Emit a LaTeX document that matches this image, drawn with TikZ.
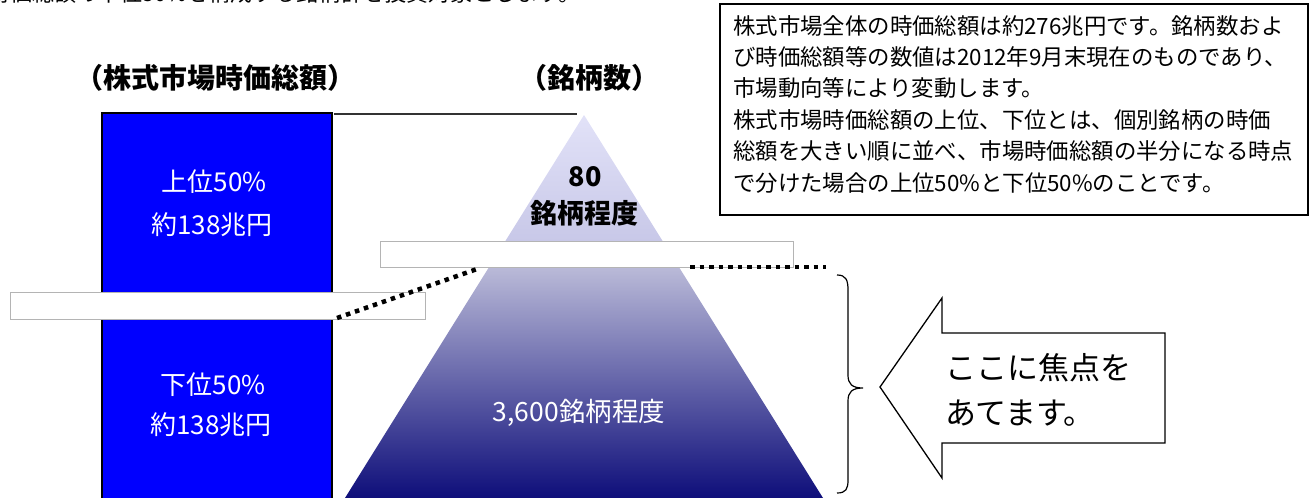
\documentclass[tikz,border=0pt]{standalone}
\usepackage{fontspec}
\setmainfont{Noto Sans CJK JP}
\definecolor{pyrA}{RGB}{226,226,248}
\definecolor{pyrB}{RGB}{200,200,232}
\definecolor{pyrC}{RGB}{186,186,216}
\definecolor{pyrD}{RGB}{14,14,122}
\definecolor{bandgray}{RGB}{180,180,180}
\tikzset{
  fs/.style={font=\fontsize{#1pt}{#1pt}\selectfont},
  fsb/.style={font=\bfseries\fontsize{#1pt}{#1pt}\selectfont},
  band/.style={fill=white, draw=bandgray, line width=0.8pt},
  dotline/.style={line width=4.5pt, dash pattern=on 4.5pt off 5pt, black},
  outline/.style={draw=black, line width=1.3pt},
  lbl/.style={inner sep=0pt, anchor=center},
}
\begin{document}
\begin{tikzpicture}[x=1pt,y=-1pt]
\useasboundingbox (0,0) rectangle (1315,498);
% clipped top line
\node[fs=22, inner sep=0pt, anchor=base west] (topline) at (-12,1.5) {時価総額の下位50\%を構成する銘柄群を投資対象とします。};
% headers
\node[lbl, fsb=28] (hdrA) at (215,78) {（株式市場時価総額）};
\node[lbl, fsb=28] (hdrB) at (589,78) {（銘柄数）};
% blue bar
\coordinate (barTL) at (102,113);
\coordinate (barBR) at (332,510);
\fill[blue] (barTL) rectangle (barBR);
\draw[black, line width=1.5pt] (102,510) -- (barTL) -- (332,113) -- (barBR);
% pyramid
\coordinate (apex) at (584,115);
\shade[top color=pyrA, bottom color=pyrB] (apex) -- (662.6,241) -- (505.4,241) -- cycle;
\shade[top color=pyrC, bottom color=pyrD] (489.1,267) -- (678.9,267) -- (823,498) -- (345,498) -- cycle;
% top connector line
\coordinate (lineA) at (334,114);
\coordinate (lineB) at (577,114);
\draw[line width=2pt, black!80] (lineA) -- (lineB);
% white bands
\draw[band] (10,292) rectangle (425,319);
\draw[band] (380,241) rectangle (793,267);
% dotted connectors
\coordinate (dA1) at (337,318);
\coordinate (dA2) at (480,268);
\coordinate (dB1) at (690,267);
\coordinate (dB2) at (826,267);
\draw[dotline] (dA1) -- (dA2);
\draw[dotline] (dB1) -- (dB2);
% bar labels
\node[lbl, fs=26, text=white] (upA) at (214,182) {上位50\%};
\node[lbl, fs=26, text=white] (upB) at (212,225) {約138兆円};
\node[lbl, fs=26, text=white] (loA) at (213,385) {下位50\%};
\node[lbl, fs=26, text=white] (loB) at (211,425) {約138兆円};
% pyramid labels
\node[lbl, fsb=27] (p80) at (585,177) {80};
\node[lbl, fsb=27] (p80b) at (584,213) {銘柄程度};
\node[lbl, fs=26.5] (p3600) at (579,413) {\color{white}3,600銘柄程度};
% brace
\draw[black, line width=1.2pt] (837,275) .. controls (846,275) and (848,280) .. (848,290) -- (848,375)
  .. controls (848,384) and (852,388) .. (863,388)
  .. controls (852,388) and (848,392) .. (848,401) -- (848,480)
  .. controls (848,489) and (846,493) .. (837,493);
% arrow
\coordinate (tip) at (880,387);
\draw[outline, fill=white] (tip) -- (942,298) -- (942,333) -- (1165,333) -- (1165,443) -- (942,443) -- (942,478) -- cycle;
\node[inner sep=0pt, anchor=west, fs=31] (focusA) at (945,368) {ここに焦点を};
\node[inner sep=0pt, anchor=west, fs=31] (focusB) at (945,413) {あてます。};
% note box
\draw[black, line width=1.5pt] (720,4) rectangle (1308,215);
\node[inner sep=0pt, anchor=north west, align=left, font=\fontsize{22.4pt}{31.4pt}\selectfont] (note) at (733,15)
 {株式市場全体の時価総額は約276兆円です。銘柄数およ\\
  び時価総額等の数値は2012年9月末現在のものであり、\\
  市場動向等により変動します。\\
  株式市場時価総額の上位、下位とは、個別銘柄の時価\\
  総額を大きい順に並べ、市場時価総額の半分になる時点\\
  で分けた場合の上位50\%と下位50\%のことです。};
\end{tikzpicture}
\end{document}
